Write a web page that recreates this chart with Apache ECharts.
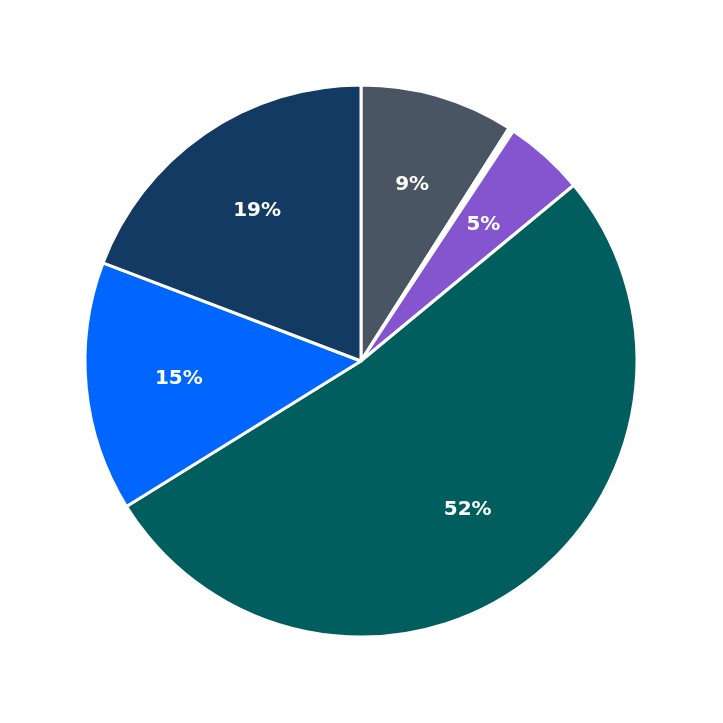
<!DOCTYPE html>
<html><head><meta charset="utf-8">
<script src="https://cdn.jsdelivr.net/npm/echarts@6/dist/echarts.min.js"></script>
<style>html,body{margin:0;padding:0;background:#fff}#c{width:723px;height:723px}</style>
</head><body><div id="c"></div>
<script>
const categories = ['A','B','C','D','E','F'];
const values = [9.0, 0.3, 4.7, 52.1, 14.6, 19.2];
const colors = ['#4a5563','#ffffff','#8455cf','#005f5e','#0066ff','#133a63'];
const data = categories.map((n,i)=>({name:n,value:values[i],itemStyle:{color:colors[i]}}));
const chart = echarts.init(document.getElementById('c'));
chart.setOption({
  animation:false,
  series:[
    {type:'pie',radius:[0,276],center:[361,361],startAngle:90,clockwise:true,
     data:data,label:{show:false},labelLine:{show:false},
     itemStyle:{borderColor:'#fff',borderWidth:3},emphasis:{disabled:true}},
    {type:'pie',radius:[0,360],center:[361,361],startAngle:90,clockwise:true,silent:true,
     data:data.map(d=>({name:d.name,value:d.value,itemStyle:{color:'rgba(0,0,0,0)'}})),
     itemStyle:{borderWidth:0},
     label:{show:true,position:'inside',color:'#fff',fontSize:20,fontWeight:'bold',
       fontFamily:'DejaVu Sans',formatter:p=>Math.round(p.percent)+'%'},
     labelLine:{show:false},emphasis:{disabled:true}}
  ]
});
</script></body></html>
